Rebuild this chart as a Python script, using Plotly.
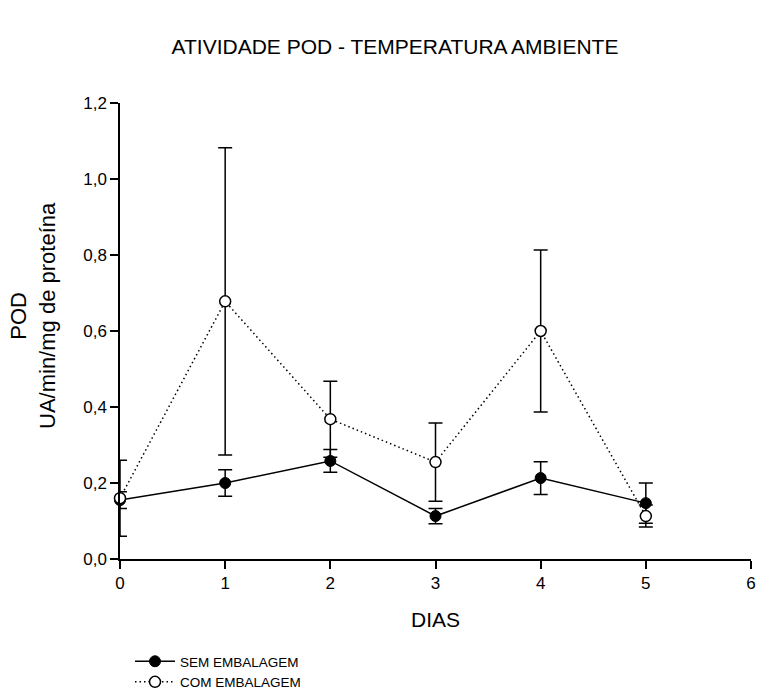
import plotly.graph_objects as go

dias = [0, 1, 2, 3, 4, 5]
sem_vals = [0.155, 0.200, 0.258, 0.113, 0.213, 0.147]
sem_err = [0.022, 0.035, 0.030, 0.020, 0.043, 0.053]
com_vals = [0.160, 0.678, 0.368, 0.255, 0.600, 0.113]
com_err = [0.100, 0.404, 0.100, 0.103, 0.213, 0.029]
x_ticks = [0, 1, 2, 3, 4, 5, 6]
y_ticks = [0.0, 0.2, 0.4, 0.6, 0.8, 1.0, 1.2]

FONT = "Liberation Sans, Arial, sans-serif"

fig = go.Figure()
fig.add_trace(go.Scatter(
    x=dias, y=sem_vals, name="SEM EMBALAGEM", mode="lines+markers",
    line=dict(color="black", width=1.5, dash="solid"),
    marker=dict(symbol="circle", size=11, color="black", line=dict(color="black", width=1)),
    error_y=dict(type="data", array=sem_err, visible=True, color="black", thickness=1.5, width=7),
    cliponaxis=False,
))
fig.add_trace(go.Scatter(
    x=dias, y=com_vals, name="COM EMBALAGEM", mode="lines+markers",
    line=dict(color="black", width=1.5, dash="1.5px,3px"),
    marker=dict(symbol="circle", size=11, color="white", line=dict(color="black", width=1.5)),
    error_y=dict(type="data", array=com_err, visible=True, color="black", thickness=1.5, width=7),
    cliponaxis=False,
))

fig.update_layout(
    width=759, height=690,
    margin=dict(l=120, r=8, t=103, b=131, autoexpand=False),
    paper_bgcolor="white", plot_bgcolor="white",
    separators=",.",
    font=dict(family=FONT, color="black", size=17),
    title=dict(text="ATIVIDADE POD - TEMPERATURA AMBIENTE", x=395/759, xanchor="center",
               y=1 - 47/690, yanchor="middle", font=dict(size=21, family=FONT, color="black")),
    xaxis=dict(range=[0, 6], tickvals=x_ticks, ticks="outside", ticklen=8, tickwidth=1.5,
               tickcolor="black", showline=True, linecolor="black", linewidth=1.5,
               showgrid=False, zeroline=False, tickfont=dict(size=17), automargin=False,
               title=dict(text="DIAS", font=dict(size=21), standoff=20)),
    yaxis=dict(range=[0, 1.2], tickvals=y_ticks, tickformat=".1f", ticks="outside", ticklen=8,
               tickwidth=1.5, tickcolor="black", showline=True, linecolor="black", linewidth=1.5,
               showgrid=False, zeroline=False, tickfont=dict(size=17), automargin=False),
    legend=dict(x=130/759, xref="container", xanchor="left",
                y=1 - 646/690, yref="container", yanchor="top",
                font=dict(size=13.5, family=FONT), bgcolor="rgba(0,0,0,0)",
                tracegroupgap=0, itemwidth=40),
    showlegend=True,
)

fig.add_annotation(
    text="POD<br>UA/min/mg de proteína", textangle=-90,
    xref="paper", yref="paper", x=-(120 - 33)/631, y=(559 - 316)/456,
    xanchor="center", yanchor="middle", showarrow=False,
    font=dict(size=22, family=FONT, color="black"),
)

fig.write_html("out.html")
